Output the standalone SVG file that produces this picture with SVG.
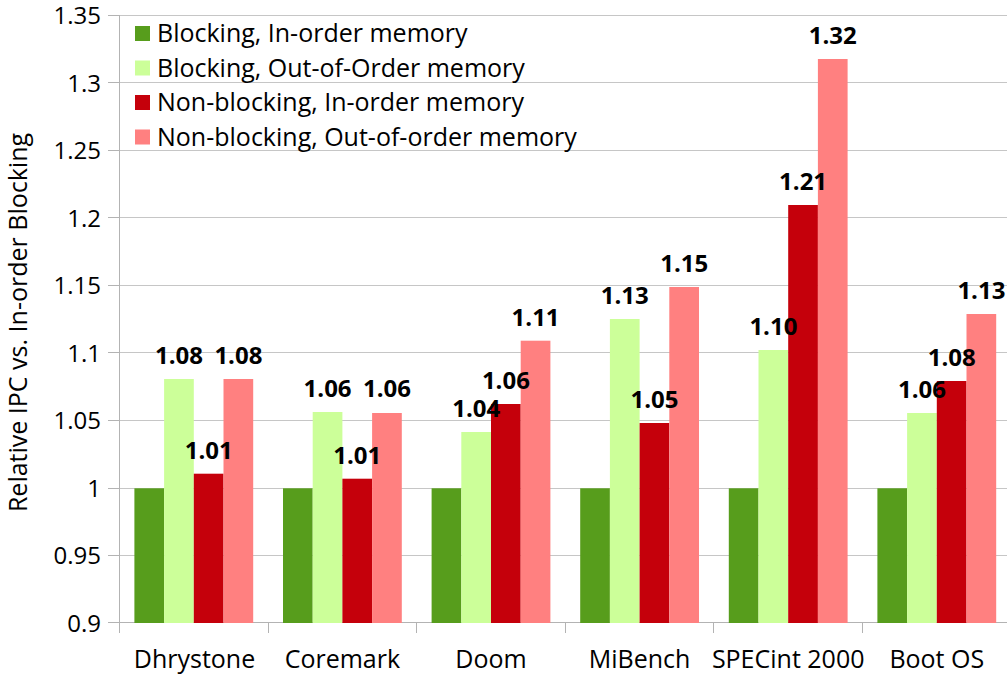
<svg xmlns="http://www.w3.org/2000/svg" width="1007" height="675" viewBox="0 0 1007 675">
  <style>
    text { font-family: "Open Sans", "Noto Sans", "Liberation Sans", sans-serif; font-size: 25px; fill: #000; }
    .tick { text-anchor: end; font-size: 24px; }
    .cat { text-anchor: middle; }
    .val { text-anchor: middle; font-weight: bold; font-size: 24px; }
    .grid { stroke: #c6c6c6; stroke-width: 1; fill: none; }
    .axis { stroke: #b3b3b3; stroke-width: 1; fill: none; }
    .s1 { fill: #579d1c; }
    .s2 { fill: #ccff99; }
    .s3 { fill: #c5000b; }
    .s4 { fill: #ff8080; }
  </style>
  <rect width="1007" height="675" fill="#ffffff"/>

  <!-- horizontal grid lines -->
  <g id="grid">
    <path class="grid" d="M119.5 15.5H1007M119.5 82.5H1007M119.5 150.5H1007M119.5 217.5H1007M119.5 285.5H1007M119.5 352.5H1007M119.5 420.5H1007M119.5 488.5H1007M119.5 555.5H1007M119.5 622.5H1007"/>
  </g>

  <!-- axes and tick marks -->
  <g id="axes">
    <path class="axis" d="M119.5 15V633M108 15.5H119.5M108 82.5H119.5M108 150.5H119.5M108 217.5H119.5M108 285.5H119.5M108 352.5H119.5M108 420.5H119.5M108 488.5H119.5M108 555.5H119.5M108 622.5H119.5"/>
    <path class="axis" d="M119.5 622.5H1007M268.5 623V633M416.5 623V633M565.5 623V633M713.5 623V633M862.5 623V633"/>
  </g>

  <!-- y-axis labels -->
  <g id="y-labels">
    <text class="tick" x="101" y="24">1.35</text>
    <text class="tick" x="101" y="91.5">1.3</text>
    <text class="tick" x="101" y="159">1.25</text>
    <text class="tick" x="101" y="226.5">1.2</text>
    <text class="tick" x="101" y="294">1.15</text>
    <text class="tick" x="101" y="361.5">1.1</text>
    <text class="tick" x="101" y="429">1.05</text>
    <text class="tick" x="101" y="497">1</text>
    <text class="tick" x="101" y="564">0.95</text>
    <text class="tick" x="101" y="631.5">0.9</text>
  </g>

  <text id="y-title" transform="translate(26.5 322.5) rotate(-90)" text-anchor="middle">Relative IPC vs. In-order Blocking</text>

  <!-- Dhrystone -->
  <g id="dhrystone">
    <rect class="s1" x="134.4" y="488.3" width="29.7" height="134.7"/>
    <rect class="s2" x="164.1" y="379" width="29.7" height="244"/>
    <rect class="s3" x="193.8" y="473.7" width="29.7" height="149.3"/>
    <rect class="s4" x="223.5" y="379" width="29.7" height="244"/>
    <text class="val" x="179" y="364">1.08</text>
    <text class="val" x="208.7" y="459">1.01</text>
    <text class="val" x="238.4" y="364">1.08</text>
    <text class="cat" x="194.5" y="668">Dhrystone</text>
  </g>

  <!-- Coremark -->
  <g id="coremark">
    <rect class="s1" x="283" y="488.3" width="29.7" height="134.7"/>
    <rect class="s2" x="312.7" y="412" width="29.7" height="211"/>
    <rect class="s3" x="342.4" y="478.7" width="29.7" height="144.3"/>
    <rect class="s4" x="372.1" y="413" width="29.7" height="210"/>
    <text class="val" x="327.6" y="397">1.06</text>
    <text class="val" x="357.3" y="464">1.01</text>
    <text class="val" x="387" y="397">1.06</text>
    <text class="cat" x="342.4" y="668">Coremark</text>
  </g>

  <!-- Doom -->
  <g id="doom">
    <rect class="s1" x="431.6" y="488.3" width="29.7" height="134.7"/>
    <rect class="s2" x="461.3" y="432" width="29.7" height="191"/>
    <rect class="s3" x="491" y="404" width="29.7" height="219"/>
    <rect class="s4" x="520.7" y="340.7" width="29.7" height="282.3"/>
    <text class="val" x="476.2" y="417">1.04</text>
    <text class="val" x="505.9" y="389">1.06</text>
    <text class="val" x="535.6" y="326">1.11</text>
    <text class="cat" x="491" y="668">Doom</text>
  </g>

  <!-- MiBench -->
  <g id="mibench">
    <rect class="s1" x="580.2" y="488.3" width="29.7" height="134.7"/>
    <rect class="s2" x="609.9" y="319" width="29.7" height="304"/>
    <rect class="s3" x="639.6" y="423" width="29.7" height="200"/>
    <rect class="s4" x="669.3" y="287" width="29.7" height="336"/>
    <text class="val" x="624.8" y="304">1.13</text>
    <text class="val" x="654.5" y="408">1.05</text>
    <text class="val" x="684.2" y="272">1.15</text>
    <text class="cat" x="639.6" y="668">MiBench</text>
  </g>

  <!-- SPECint 2000 -->
  <g id="specint">
    <rect class="s1" x="728.8" y="488.3" width="29.7" height="134.7"/>
    <rect class="s2" x="758.5" y="350" width="29.7" height="273"/>
    <rect class="s3" x="788.2" y="205" width="29.7" height="418"/>
    <rect class="s4" x="817.9" y="59" width="29.7" height="564"/>
    <text class="val" x="773.4" y="335">1.10</text>
    <text class="val" x="803.1" y="190">1.21</text>
    <text class="val" x="832.8" y="44">1.32</text>
    <text class="cat" x="788.2" y="668">SPECint 2000</text>
  </g>

  <!-- Boot OS -->
  <g id="boot-os">
    <rect class="s1" x="877.4" y="488.3" width="29.7" height="134.7"/>
    <rect class="s2" x="907.1" y="413" width="29.7" height="210"/>
    <rect class="s3" x="936.8" y="381" width="29.7" height="242"/>
    <rect class="s4" x="966.5" y="314" width="29.7" height="309"/>
    <text class="val" x="922" y="398">1.06</text>
    <text class="val" x="951.7" y="366">1.08</text>
    <text class="val" x="981.4" y="299">1.13</text>
    <text class="cat" x="936.8" y="668">Boot OS</text>
  </g>

  <!-- legend -->
  <g id="legend">
    <rect class="s1" x="135" y="26" width="15" height="15"/>
    <text x="157" y="42">Blocking, In-order memory</text>
    <rect class="s2" x="135" y="60.5" width="15" height="15"/>
    <text x="157" y="76.5">Blocking, Out-of-Order memory</text>
    <rect class="s3" x="135" y="95" width="15" height="15"/>
    <text x="157" y="111">Non-blocking, In-order memory</text>
    <rect class="s4" x="135" y="129.5" width="15" height="15"/>
    <text x="157" y="145.5">Non-blocking, Out-of-order memory</text>
  </g>
</svg>
